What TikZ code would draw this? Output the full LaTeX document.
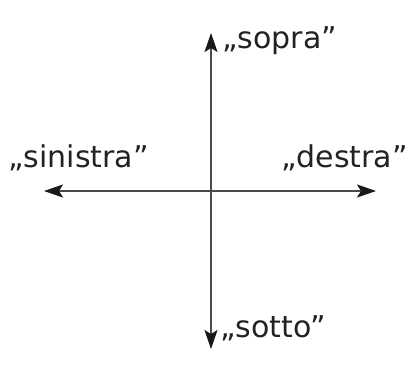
\documentclass[tikz,border=0pt]{standalone}
\usepackage{fontspec}
\setmainfont{DejaVu Sans}
\usetikzlibrary{arrows.meta,positioning}
\definecolor{axisgray}{HTML}{4A4A4A}
\definecolor{labelgray}{HTML}{222222}

\begin{document}
\begin{tikzpicture}[x=1pt, y=-1pt,
  lbl/.style={anchor=base west, inner sep=0pt, text=labelgray, font=\fontsize{30}{34}\selectfont},
  axtip/.tip={Stealth[length=19pt, width=13pt, inset=4pt, color=black!90]},
  axis/.style={axtip-axtip, line width=2pt, axisgray}
]
  \useasboundingbox (0,0) rectangle (409,365);
  \coordinate (top)    at (211,33);
  \coordinate (bottom) at (211,349);
  \coordinate (left)   at (44,191);
  \coordinate (right)  at (376,191);
  \draw[axis] (bottom) -- (top);
  \draw[axis] (left) -- (right);
  \node[lbl] (sopra)    at (222,48)  {„sopra”};
  \node[lbl] (sinistra) at (8,167)   {„sinistra”};
  \node[lbl] (destra)   at (281,167) {„destra”};
  \node[lbl] (sotto)    at (220,337) {„sotto”};
\end{tikzpicture}
\end{document}
